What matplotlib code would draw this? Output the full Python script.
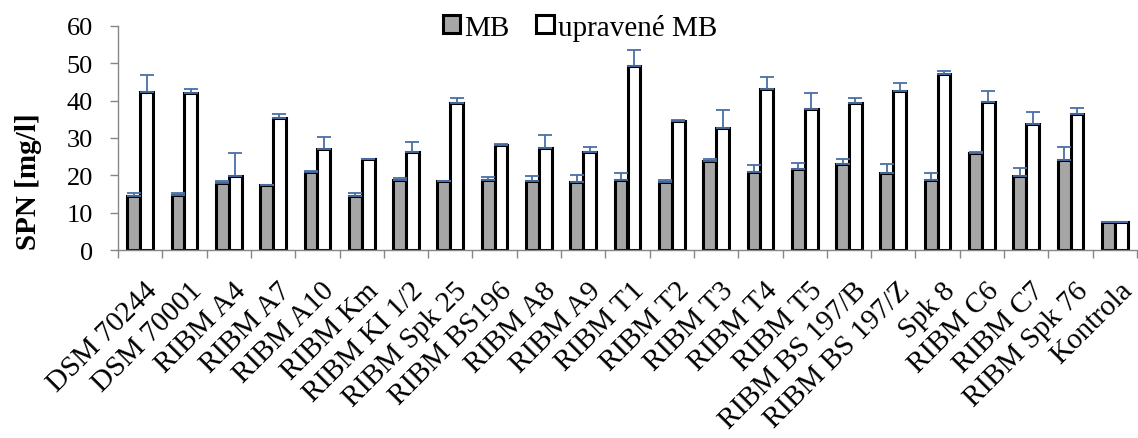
import matplotlib.pyplot as plt
import matplotlib.transforms as mtransforms
import numpy as np

plt.rcParams['font.family'] = ['Liberation Serif', 'DejaVu Serif']

kmene = ['DSM 70244', 'DSM 70001', 'RIBM A4', 'RIBM A7', 'RIBM A10', 'RIBM Km',
         'RIBM KI 1/2', 'RIBM Spk 25', 'RIBM BS196', 'RIBM A8', 'RIBM A9',
         'RIBM T1', 'RIBM T2', 'RIBM T3', 'RIBM T4', 'RIBM T5', 'RIBM BS 197/B',
         'RIBM BS 197/Z', 'Spk 8', 'RIBM C6', 'RIBM C7', 'RIBM Spk 76', 'Kontrola']

mb = [14.5, 14.6, 17.9, 17.5, 21.0, 14.5, 18.8, 18.4, 18.8, 18.4, 18.1,
      18.8, 18.1, 23.8, 21.0, 21.6, 23.0, 20.7, 18.8, 26.1, 19.7, 24.2, 7.4]
mb_err = [0.9, 0.8, 0.7, 0.0, 0.2, 0.9, 0.5, 0.1, 0.7, 1.5, 2.1,
          1.7, 0.7, 0.5, 1.9, 1.8, 1.4, 2.4, 1.7, 0.2, 2.3, 3.4, 0.1]
upr = [42.4, 42.1, 19.7, 35.4, 27.1, 24.3, 26.2, 39.3, 28.1, 27.4, 26.2,
       49.2, 34.6, 32.6, 43.1, 37.7, 39.3, 42.5, 47.2, 39.6, 33.8, 36.3, 7.4]
upr_err = [4.6, 1.1, 6.3, 1.1, 3.1, 0.2, 2.6, 1.4, 0.2, 3.4, 1.4,
           4.3, 0.1, 5.0, 3.3, 4.3, 1.4, 2.1, 0.8, 3.1, 3.2, 1.8, 0.1]

fig = plt.figure(figsize=(11.38, 4.39), dpi=100)
ax = fig.add_axes([118 / 1138, 1 - 251 / 439, 1019 / 1138, 224 / 439])

x = np.arange(len(kmene))
w = 0.29
err_kw = dict(ecolor='#4a6fa5', elinewidth=1.3, capsize=5, capthick=1.3)
ax.bar(x - w / 2, mb, w, color='#a6a6a6', edgecolor='black', linewidth=2.2,
       yerr=[np.zeros(len(mb)), mb_err], error_kw=err_kw, label='MB', zorder=2)
ax.bar(x + w / 2, upr, w, color='white', edgecolor='black', linewidth=2.2,
       yerr=[np.zeros(len(upr)), upr_err], error_kw=err_kw, label='upravené MB', zorder=2)

ax.set_xlim(-0.5, len(kmene) - 0.5)
ax.set_ylim(0, 60)
ax.set_yticks(np.arange(0, 61, 10))
ax.set_xticks(np.arange(len(kmene) + 1) - 0.5, minor=True)
ax.set_xticks(x)
ax.set_xticklabels(kmene, rotation=45, ha='right', va='top',
                   rotation_mode='anchor', fontsize=21)
ax.tick_params(axis='x', which='major', length=0, pad=0)
ax.tick_params(axis='x', which='minor', length=6, color='#868686', width=1)
ax.tick_params(axis='y', length=6, color='#868686', width=1, labelsize=19, pad=12)

# move the rotated labels down so their ends sit just under each category
shift = mtransforms.ScaledTranslation(0.04, -0.27, fig.dpi_scale_trans)
for lab in ax.get_xticklabels():
    lab.set_transform(lab.get_transform() + shift)

for s in ['top', 'right']:
    ax.spines[s].set_visible(False)
for s in ['left', 'bottom']:
    ax.spines[s].set_color('#868686')
    ax.spines[s].set_linewidth(1)

ax.set_ylabel('SPN [mg/l]', fontsize=21, fontweight='bold')
ax.yaxis.set_label_coords(-0.075, 0.31)

fig.legend(loc='center', bbox_to_anchor=(580 / 1138, 1 - 28 / 439), ncol=2,
           frameon=False, fontsize=21, handlelength=0.6, handleheight=0.6,
           handletextpad=0.15, columnspacing=0.9, borderpad=0)

fig.savefig('out.png', dpi=100)
